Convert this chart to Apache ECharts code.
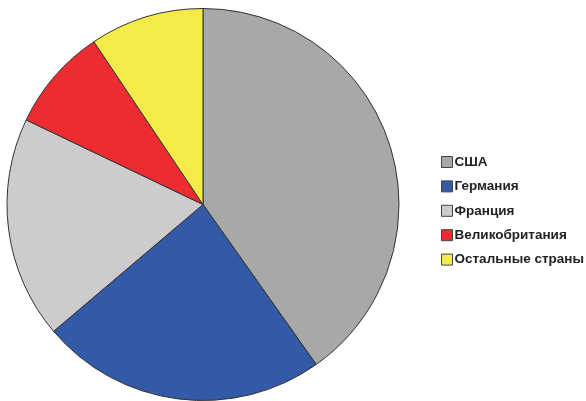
<!DOCTYPE html>
<html><head><meta charset="utf-8">
<script src="https://cdn.jsdelivr.net/npm/echarts@6/dist/echarts.min.js"></script>
<style>html,body{margin:0;padding:0;background:#fff}#c{width:586px;height:401px}</style>
</head><body><div id="c"></div>
<script>
const categories = ['США', 'Германия', 'Франция', 'Великобритания', 'Остальные страны'];
const shares = [40.2, 23.6, 18.3, 8.5, 9.4];
const colors = ['#a7a8a8', '#335aa6', '#cccccc', '#ec2c30', '#f4eb48'];

const chart = echarts.init(document.getElementById('c'), null, {renderer: 'canvas'});
chart.setOption({
  animation: false,
  backgroundColor: '#fff',
  color: colors,
  legend: {
    orient: 'vertical',
    left: 436,
    top: 150,
    itemWidth: 11,
    itemHeight: 11,
    itemGap: 10.4,
    icon: 'rect',
    itemStyle: {borderColor: '#444', borderWidth: 1},
    textStyle: {fontFamily: 'Liberation Sans, Arial, sans-serif', fontWeight: 'bold', fontSize: 13.5, color: '#222', padding: [0, 0, 0, -3]},
    data: categories
  },
  series: [{
    type: 'pie',
    center: [203, 204.5],
    radius: [0, 196],
    startAngle: 90,
    clockwise: true,
    label: {show: false},
    labelLine: {show: false},
    emphasis: {disabled: true},
    itemStyle: {borderColor: '#333', borderWidth: 1},
    data: categories.map((n, i) => ({name: n, value: shares[i]}))
  }]
});
</script></body></html>
